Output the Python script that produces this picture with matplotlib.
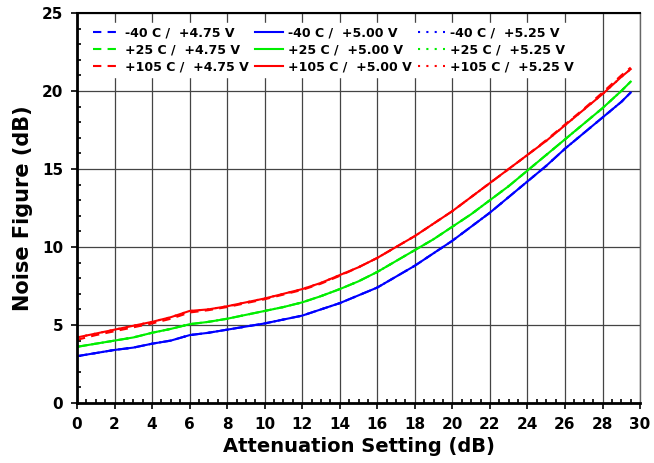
import matplotlib
matplotlib.use("Agg")
import matplotlib.pyplot as plt
from matplotlib.ticker import MultipleLocator

atten = [0, 1, 2, 3, 4, 5, 6, 7, 8, 9, 10, 11, 12, 13, 14, 15, 16, 17, 18, 19,
         20, 21, 22, 23, 24, 25, 26, 27, 28, 29, 29.5]

nf_m40_500 = [3.0, 3.2, 3.4, 3.55, 3.8, 4.0, 4.35, 4.5, 4.7, 4.9, 5.1, 5.35, 5.6, 6.0,
              6.4, 6.9, 7.4, 8.1, 8.8, 9.6, 10.4, 11.3, 12.2, 13.2, 14.2, 15.2, 16.3,
              17.3, 18.3, 19.3, 19.9]
nf_m40_475 = [3.0, 3.2, 3.4, 3.55, 3.8, 4.0, 4.35, 4.5, 4.7, 4.9, 5.1, 5.35, 5.6, 6.0,
              6.4, 6.9, 7.4, 8.1, 8.8, 9.6, 10.4, 11.3, 12.2, 13.2, 14.2, 15.2, 16.3,
              17.3, 18.3, 19.3, 19.9]
nf_m40_525 = [3.0, 3.2, 3.4, 3.55, 3.8, 4.0, 4.35, 4.5, 4.7, 4.9, 5.1, 5.35, 5.6, 6.0,
              6.4, 6.9, 7.4, 8.1, 8.8, 9.6, 10.4, 11.3, 12.2, 13.2, 14.2, 15.2, 16.3,
              17.3, 18.3, 19.3, 19.9]

nf_p25_500 = [3.6, 3.8, 4.0, 4.2, 4.5, 4.75, 5.05, 5.2, 5.4, 5.65, 5.9, 6.15, 6.45, 6.85,
              7.3, 7.8, 8.4, 9.1, 9.8, 10.5, 11.3, 12.1, 13.0, 13.9, 14.9, 15.9, 16.9,
              17.9, 18.9, 20.0, 20.6]
nf_p25_475 = [3.6, 3.8, 4.0, 4.2, 4.5, 4.75, 5.05, 5.2, 5.4, 5.65, 5.9, 6.15, 6.45, 6.85,
              7.3, 7.8, 8.4, 9.1, 9.8, 10.5, 11.3, 12.1, 13.0, 13.9, 14.9, 15.9, 16.9,
              17.9, 18.9, 20.0, 20.6]
nf_p25_525 = [3.6, 3.8, 4.0, 4.2, 4.5, 4.75, 5.05, 5.2, 5.4, 5.65, 5.9, 6.15, 6.45, 6.85,
              7.3, 7.8, 8.4, 9.1, 9.8, 10.5, 11.3, 12.1, 13.0, 13.9, 14.9, 15.9, 16.9,
              17.9, 18.9, 20.0, 20.6]

nf_p105_500 = [4.2, 4.45, 4.7, 4.95, 5.2, 5.5, 5.9, 6.0, 6.2, 6.45, 6.7, 7.0, 7.3, 7.7,
               8.2, 8.7, 9.3, 10.0, 10.7, 11.5, 12.3, 13.2, 14.1, 15.0, 15.9, 16.8, 17.8,
               18.8, 19.8, 20.9, 21.4]
nf_p105_475 = [4.05, 4.35, 4.6, 4.85, 5.1, 5.4, 5.8, 5.95, 6.15, 6.4, 6.65, 6.95, 7.25, 7.65,
               8.15, 8.7, 9.3, 10.0, 10.7, 11.5, 12.3, 13.2, 14.1, 15.0, 15.9, 16.85, 17.85,
               18.85, 19.9, 21.0, 21.5]
nf_p105_525 = [4.2, 4.45, 4.7, 4.95, 5.2, 5.5, 5.9, 6.0, 6.2, 6.45, 6.7, 7.0, 7.3, 7.7,
               8.2, 8.7, 9.3, 10.0, 10.7, 11.5, 12.3, 13.2, 14.1, 15.0, 15.9, 16.8, 17.8,
               18.8, 19.8, 20.9, 21.4]

labels = [
    ("-40 C /  +4.75 V", nf_m40_475, "#0000ff", (0, (4, 3))),
    ("+25 C /  +4.75 V", nf_p25_475, "#00ee00", (0, (4, 3))),
    ("+105 C /  +4.75 V", nf_p105_475, "#ff0000", (0, (4, 3))),
    ("-40 C /  +5.00 V", nf_m40_500, "#0000ff", "-"),
    ("+25 C /  +5.00 V", nf_p25_500, "#00ee00", "-"),
    ("+105 C /  +5.00 V", nf_p105_500, "#ff0000", "-"),
    ("-40 C /  +5.25 V", nf_m40_525, "#0000ff", (0, (1, 3))),
    ("+25 C /  +5.25 V", nf_p25_525, "#00ee00", (0, (1, 3))),
    ("+105 C /  +5.25 V", nf_p105_525, "#ff0000", (0, (1, 3))),
]

plt.rcParams['font.family'] = ['DejaVu Sans']
fig = plt.figure(figsize=(6.54, 4.63), dpi=100)
ax = fig.add_axes([0.1177, 0.1296, 0.861, 0.8424])

for lab, y, c, ls in labels:
    ax.plot(atten, y, color=c, linestyle=ls, linewidth=1.5, label=lab)

ax.set_xlim(0, 30)
ax.set_ylim(0, 25)
ax.xaxis.set_major_locator(MultipleLocator(2))
ax.xaxis.set_minor_locator(MultipleLocator(0.5))
ax.yaxis.set_major_locator(MultipleLocator(5))
ax.yaxis.set_minor_locator(MultipleLocator(1))
ax.grid(True, which='major', color='#444444', linewidth=0.9)
ax.set_axisbelow(True)

ax.tick_params(axis='both', which='major', direction='out', length=4, width=1.2,
               labelsize=11, pad=6)
ax.tick_params(axis='both', which='minor', direction='in', length=3, width=1.2)
for lab in ax.get_xticklabels() + ax.get_yticklabels():
    lab.set_fontweight('bold')

ax.spines['bottom'].set_linewidth(2)
ax.spines['left'].set_linewidth(2)
ax.spines['top'].set_linewidth(1.5)
ax.spines['right'].set_linewidth(1)
ax.spines['right'].set_color('#666666')

ax.set_xlabel("Attenuation Setting (dB)", fontsize=14, fontweight='bold', labelpad=4)
ax.set_ylabel("Noise Figure (dB)", fontsize=15, fontweight='bold', labelpad=6)

leg = ax.legend(ncol=3, loc='upper left', bbox_to_anchor=(0.015, 0.985), frameon=True,
                prop={'weight': 'bold', 'size': 9}, handlelength=2.2,
                columnspacing=0.5, handletextpad=0.4, labelspacing=0.32,
                borderaxespad=0.3, borderpad=0.3, framealpha=1, edgecolor='white',
                fancybox=False)

fig.savefig("out.png", dpi=100)
